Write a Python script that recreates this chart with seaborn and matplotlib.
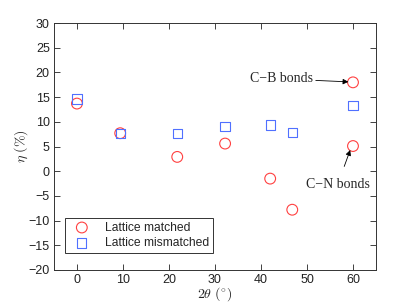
import numpy as np
import pandas as pd
import matplotlib
matplotlib.use('Agg')
import matplotlib.pyplot as plt
import seaborn as sns

# data
matched_x = [0, 9.4, 21.8, 32.2, 42.0, 46.8, 60, 60]
matched_y = [13.7, 7.7, 2.9, 5.6, -1.5, -7.8, 18.0, 5.1]
mismatched_x = [0, 9.4, 21.8, 32.2, 42.0, 46.8, 60]
mismatched_y = [14.6, 7.7, 7.7, 9.1, 9.35, 7.9, 13.3]

sns.set_style('ticks')
plt.rcParams['font.family'] = ['Liberation Sans', 'DejaVu Sans']
plt.rcParams['mathtext.fontset'] = 'cm'
plt.rcParams['xtick.direction'] = 'in'
plt.rcParams['ytick.direction'] = 'in'

fig = plt.figure(figsize=(4.15, 3.04), dpi=100)
ax = fig.add_axes([0.130, 0.112, 0.776, 0.812])

sns.scatterplot(x=matched_x, y=matched_y, ax=ax, marker='o', s=60,
                facecolors='none', edgecolors='#ff4040', linewidth=0.8,
                label='Lattice matched')
sns.scatterplot(x=mismatched_x, y=mismatched_y, ax=ax, marker='s', s=45,
                facecolors='none', edgecolors='#5070ff', linewidth=0.8,
                label='Lattice mismatched')

ax.set_xlim(-5, 65)
ax.set_ylim(-20, 30)
ax.set_xticks(np.arange(0, 61, 10))
ax.set_yticks(np.arange(-20, 31, 5))
ax.tick_params(labelsize=9, length=4, width=0.6, top=True, right=True,
               colors='#222222', pad=3)
for sp in ax.spines.values():
    sp.set_linewidth(0.7)
    sp.set_color('#333333')

ax.set_xlabel(r'$2\theta\ (^{\circ})$', fontsize=10, labelpad=-1)
ax.set_ylabel(r'$\eta\ (\%)$', fontsize=10, labelpad=-1)

ax.annotate('C\u2212B bonds', xy=(59.0, 18.1), xytext=(51.2, 18.7),
            ha='right', va='center', fontsize=10, family='Liberation Serif',
            arrowprops=dict(arrowstyle='-|>', color='black', lw=0.6,
                            mutation_scale=8, shrinkA=0, shrinkB=0))
ax.annotate('C\u2212N bonds', xy=(59.4, 4.3), xytext=(56.7, -2.6),
            ha='center', va='center', fontsize=10, family='Liberation Serif',
            arrowprops=dict(arrowstyle='-|>', color='black', lw=0.6,
                            mutation_scale=8, shrinkA=6, shrinkB=0))

leg = ax.legend(loc='lower left', bbox_to_anchor=(0.034, 0.069), fontsize=8.7,
                frameon=True, fancybox=False, edgecolor='black',
                borderpad=0.3, handletextpad=0.8, labelspacing=0.3,
                borderaxespad=0.0, handlelength=2.2)
leg.get_frame().set_linewidth(0.7)

fig.savefig('out.png', dpi=100)
